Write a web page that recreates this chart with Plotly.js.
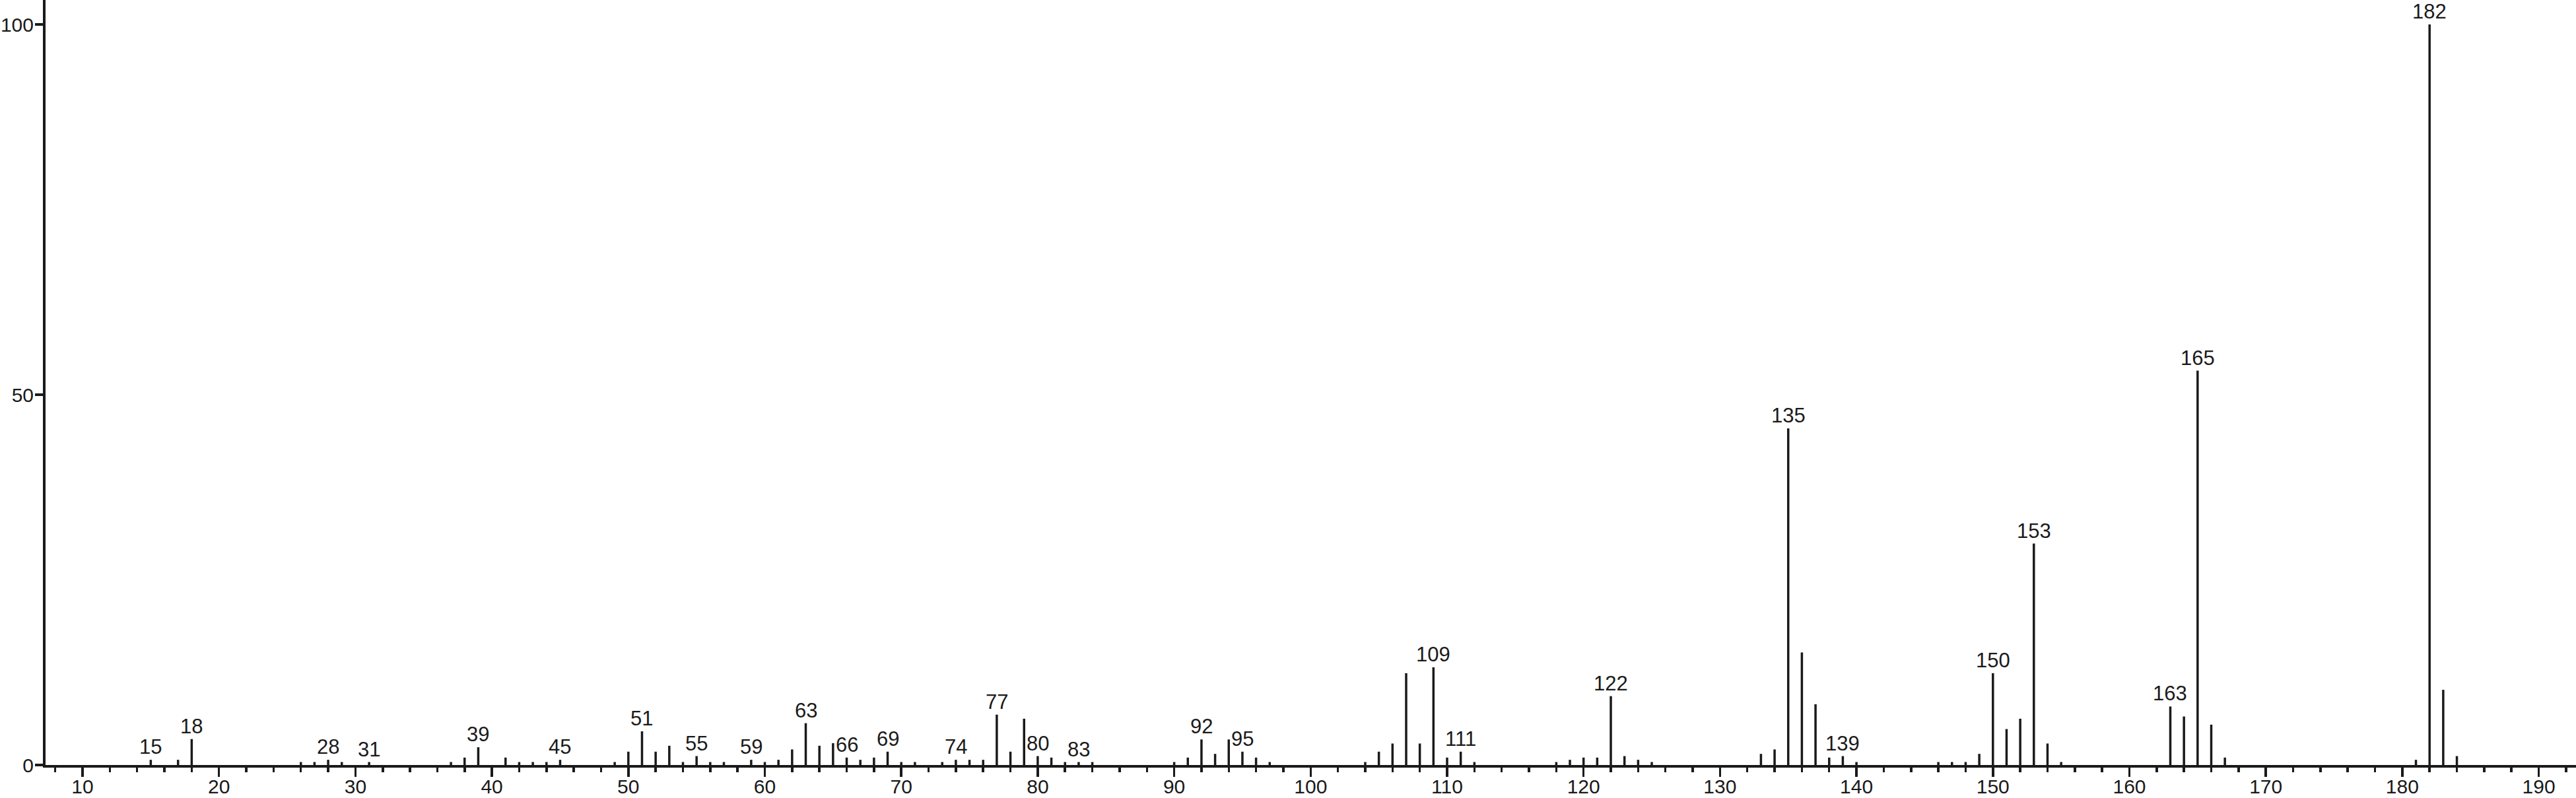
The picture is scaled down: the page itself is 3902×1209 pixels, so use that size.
<!DOCTYPE html>
<html>
<head>
<meta charset="utf-8">
<script src="https://cdn.plot.ly/plotly-3.0.1.min.js"></script>
<style>
html,body{margin:0;padding:0;background:#fff;}
#chart{width:3902px;height:1209px;}
</style>
</head>
<body>
<div id="chart"></div>
<script>
// m/z values of the spectrum peaks
const mz = [15,17,18,26,27,28,29,31,37,38,39,41,42,43,44,45,49,50,51,52,53,54,55,56,57,59,60,61,62,63,64,65,66,67,68,69,70,71,73,74,75,76,77,78,79,80,81,82,83,84,90,91,92,93,94,95,96,97,104,105,106,107,108,109,110,111,112,118,119,120,121,122,123,124,125,133,134,135,136,137,138,139,140,146,147,148,149,150,151,152,153,154,155,163,164,165,166,167,181,182,183,184];
// relative intensities (%)
const intensity = [0.7,0.7,3.5,0.4,0.4,0.7,0.4,0.4,0.4,1.0,2.4,1.0,0.4,0.4,0.4,0.7,0.4,1.8,4.55,1.8,2.6,0.4,1.2,0.4,0.4,0.7,0.4,0.7,2.1,5.65,2.6,2.95,1.0,0.7,1.0,1.8,0.4,0.4,0.4,0.7,0.7,0.7,6.8,1.8,6.25,1.2,1.0,0.4,0.4,0.4,0.4,1.0,3.45,1.5,3.45,1.8,1.0,0.4,0.4,1.8,2.9,12.4,2.9,13.2,1.0,1.8,0.4,0.4,0.7,1.0,1.0,9.3,1.2,0.7,0.4,1.5,2.1,45.45,15.2,8.2,1.0,1.2,0.4,0.4,0.4,0.4,1.5,12.4,4.85,6.25,29.9,2.9,0.4,7.9,6.55,53.25,5.45,1.0,0.7,100,10.15,1.2];
// peaks carrying an m/z label
const labeledMz = [15,18,28,31,39,45,51,55,59,63,66,69,74,77,80,83,92,95,109,111,122,135,139,150,153,163,165,182];
// axis ticks
const xTickVals = [10,20,30,40,50,60,70,80,90,100,110,120,130,140,150,160,170,180,190];
const yTickVals = [0,50,100];
const yTickText = ['0','50','100'];

const ink = '#1a1a1a';
const fontFam = '"Liberation Sans", Arial, Helvetica, sans-serif';

const sx = [], sy = [];
mz.forEach((m, i) => { sx.push(m, m, null); sy.push(0, intensity[i], null); });

const trace = {
  x: sx, y: sy, type: 'scatter', mode: 'lines',
  line: {color: ink, width: 3.5}, hoverinfo: 'skip', showlegend: false
};

const annotations = labeledMz.map(m => ({
  x: m, y: intensity[mz.indexOf(m)], xref: 'x', yref: 'y',
  text: String(m), showarrow: false, xanchor: 'center', yanchor: 'bottom',
  yshift: 0, font: {family: fontFam, size: 31, color: ink}
}));

const layout = {
  width: 3902, height: 1209,
  margin: {l: 69, r: 0, t: 0, b: 50, pad: 0},
  paper_bgcolor: '#fff', plot_bgcolor: '#fff',
  showlegend: false,
  xaxis: {
    range: [7.29, 192.73], showgrid: false, zeroline: false,
    showline: true, linecolor: ink, linewidth: 4,
    tickmode: 'array', tickvals: xTickVals, ticks: 'outside',
    ticklen: 14, tickwidth: 3.5, tickcolor: ink,
    ticklabelstandoff: -11,
    minor: {dtick: 2, tick0: 0, ticks: 'outside', ticklen: 7, tickwidth: 3.5, tickcolor: ink, showgrid: false},
    tickfont: {family: fontFam, size: 30, color: ink},
    fixedrange: true
  },
  yaxis: {
    range: [0, 103.3], showgrid: false, zeroline: false,
    showline: true, linecolor: ink, linewidth: 4,
    tickmode: 'array', tickvals: yTickVals, ticktext: yTickText,
    ticks: 'outside', ticklen: 12, tickwidth: 3.5, tickcolor: ink,
    ticklabelstandoff: -4,
    tickfont: {family: fontFam, size: 30, color: ink},
    fixedrange: true
  },
  annotations: annotations
};

Plotly.newPlot('chart', [trace], layout, {displayModeBar: false, staticPlot: true});
</script>
</body>
</html>
